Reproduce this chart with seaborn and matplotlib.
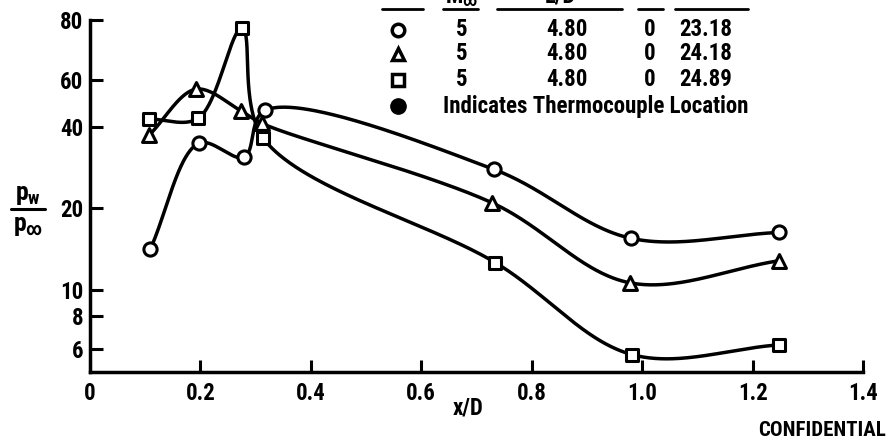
import numpy as np
import pandas as pd
import matplotlib
matplotlib.use("Agg")
import matplotlib.pyplot as plt
import seaborn as sns
from matplotlib.lines import Line2D
from matplotlib import font_manager

# ---- data ----
x_circle = [0.109, 0.197, 0.279, 0.317, 0.732, 0.980, 1.248]
y_circle = [14.1, 34.9, 31.0, 46.2, 27.9, 15.5, 16.3]
x_tri = [0.107, 0.192, 0.274, 0.311, 0.728, 0.978, 1.248]
y_tri = [37.4, 55.4, 45.9, 41.4, 21.0, 10.6, 12.8]
x_sq = [0.107, 0.196, 0.275, 0.314, 0.734, 0.982, 1.248]
y_sq = [42.9, 43.2, 93.0, 36.4, 12.6, 5.74, 6.24]

x_ticks = [0, 0.2, 0.4, 0.6, 0.8, 1.0, 1.2, 1.4]
x_ticklabels = ["0", "0.2", "0.4", "0.6", "0.8", "1.0", "1.2", "1.4"]
y_ticks = [6, 8, 10, 20, 40, 60, 100]
y_ticklabels = ["6", "8", "10", "20", "40", "60", "80"]

leg_col2 = ["5", "5", "5"]
leg_col3 = ["4.80", "4.80", "4.80"]
leg_col4 = ["0", "0", "0"]
leg_col5 = ["23.18", "24.18", "24.89"]
leg_note = "Indicates Thermocouple Location"

W, H = 891, 445
sns.set_style("ticks")

available = {f.name for f in font_manager.fontManager.ttflist}
preferred = ["Liberation Sans Narrow", "Roboto Condensed", "Open Sans Condensed",
             "Noto Sans Condensed", "DejaVu Sans Condensed", "Roboto", "DejaVu Sans"]
fam = next((f for f in preferred if f in available), "DejaVu Sans")
narrow = fam not in ("Roboto", "DejaVu Sans")
stretch = "normal" if narrow else "condensed"

plt.rcParams["font.family"] = [fam, "DejaVu Sans"]
plt.rcParams["font.weight"] = "bold"
for k in ["text.color", "axes.labelcolor", "xtick.color", "ytick.color", "axes.edgecolor"]:
    plt.rcParams[k] = "black"
plt.rcParams["mathtext.fontset"] = "custom"
plt.rcParams["mathtext.bf"] = f"{fam}:bold"
plt.rcParams["mathtext.rm"] = f"{fam}:bold"
plt.rcParams["mathtext.it"] = f"{fam}:bold"

FS = 16.5 if narrow else 14

fig = plt.figure(figsize=(W / 100, H / 100), dpi=100)
ax = fig.add_axes([90 / W, 1 - 372 / H, (863 - 90) / W, (372 - 20) / H])

XS, YS = 552.0, 269.0  # px per x unit / per decade


def smooth(xs, ys, n=100, alpha=0.5):
    """Centripetal Catmull-Rom curve through the points, in x / log-y space."""
    P = np.column_stack([np.asarray(xs) * XS, np.log10(ys) * YS])
    Q = np.vstack([2 * P[0] - P[1], P, 2 * P[-1] - P[-2]])
    out = []
    for i in range(len(P) - 1):
        p0, p1, p2, p3 = Q[i], Q[i + 1], Q[i + 2], Q[i + 3]
        t0 = 0.0
        t1 = t0 + np.linalg.norm(p1 - p0) ** alpha
        t2 = t1 + np.linalg.norm(p2 - p1) ** alpha
        t3 = t2 + np.linalg.norm(p3 - p2) ** alpha
        t = np.linspace(t1, t2, n)[:, None]
        A1 = (t1 - t) / (t1 - t0) * p0 + (t - t0) / (t1 - t0) * p1
        A2 = (t2 - t) / (t2 - t1) * p1 + (t - t1) / (t2 - t1) * p2
        A3 = (t3 - t) / (t3 - t2) * p2 + (t - t2) / (t3 - t2) * p3
        B1 = (t2 - t) / (t2 - t0) * A1 + (t - t0) / (t2 - t0) * A2
        B2 = (t3 - t) / (t3 - t1) * A2 + (t - t1) / (t3 - t1) * A3
        C = (t2 - t) / (t2 - t1) * B1 + (t - t1) / (t2 - t1) * B2
        out.append(C)
    C = np.vstack(out)
    return C[:, 0] / XS, 10 ** (C[:, 1] / YS)


series = [(x_circle, y_circle, "o", 90), (x_tri, y_tri, "^", 100), (x_sq, y_sq, "s", 80)]
for xs, ys, mk, s in series:
    cx, cy = smooth(xs, ys)
    sns.lineplot(x=cx, y=cy, sort=False, estimator=None, color="black", lw=2.5, ax=ax, zorder=2)
    sns.scatterplot(x=xs, y=ys, marker=mk, s=s, facecolor="white", edgecolor="black",
                    linewidth=2.2, ax=ax, zorder=3)

ax.set_yscale("log")
ax.set_xlim(0, 1.4)
ax.set_ylim(4.95, 100)
ax.set_xticks(x_ticks)
ax.set_xticklabels(x_ticklabels)
ax.set_yticks(y_ticks)
ax.set_yticklabels(y_ticklabels)
ax.minorticks_off()
ax.yaxis.set_minor_locator(matplotlib.ticker.NullLocator())
for sp in ["top", "right"]:
    ax.spines[sp].set_visible(False)
for sp in ["left", "bottom"]:
    ax.spines[sp].set_linewidth(2.5)
ax.tick_params(axis="both", direction="in", length=9, width=2.2, labelsize=FS, colors="black")
ax.tick_params(axis="y", pad=5)
ax.tick_params(axis="x", pad=7)
for lab in ax.get_xticklabels() + ax.get_yticklabels():
    lab.set_fontweight("bold")
    lab.set_fontstretch(stretch)
ax.set_xlabel("")
ax.set_ylabel("")


def fx(px):
    return px / W


def fy(py):
    return 1 - py / H


def T(px, py, s, **kw):
    kw.setdefault("fontsize", FS)
    kw.setdefault("fontweight", "bold")
    kw.setdefault("fontstretch", stretch)
    return fig.text(fx(px), fy(py), s, **kw)


# axis titles
T(468, 408, "x/D", ha="center", va="center")
T(886, 430, "CONFIDENTIAL", ha="right", va="center", fontsize=FS - 1.5)
T(28, 195, r"$\mathbf{p_w}$", ha="center", va="center", fontsize=FS + 2)
fig.add_artist(Line2D([fx(11), fx(45)], [fy(209), fy(209)], color="black", lw=2.2, transform=fig.transFigure))
T(28, 226, r"$\mathbf{p_\infty}$", ha="center", va="center", fontsize=FS + 2)

# legend table
row_y = [30, 54, 80]
for mk, yy in zip(["o", "^", "s"], row_y):
    fig.add_artist(Line2D([fx(398)], [fy(yy)], marker=mk, markersize=9, markerfacecolor="white",
                          markeredgecolor="black", markeredgewidth=2.5, linestyle="none",
                          transform=fig.transFigure))
for i, yy in enumerate(row_y):
    T(462, yy, leg_col2[i], ha="center", va="center")
    T(567, yy, leg_col3[i], ha="center", va="center")
    T(650, yy, leg_col4[i], ha="center", va="center")
    T(706, yy, leg_col5[i], ha="center", va="center")
fig.add_artist(Line2D([fx(398)], [fy(106)], marker="o", markersize=11, markerfacecolor="black",
                      markeredgecolor="black", linestyle="none", transform=fig.transFigure))
T(443, 106, leg_note, ha="left", va="center")

# header underlines (header text cut off at top of the page)
for a, b in [(382, 423), (443, 478), (497, 622), (638, 663), (675, 748)]:
    fig.add_artist(Line2D([fx(a), fx(b)], [fy(9), fy(9)], color="black", lw=2, transform=fig.transFigure))
for px, txt in [(462, r"$\mathbf{M_\infty}$"), (560, "L/D")]:
    T(px, 3, txt, ha="center", va="baseline")

fig.savefig("out.png", dpi=100)
